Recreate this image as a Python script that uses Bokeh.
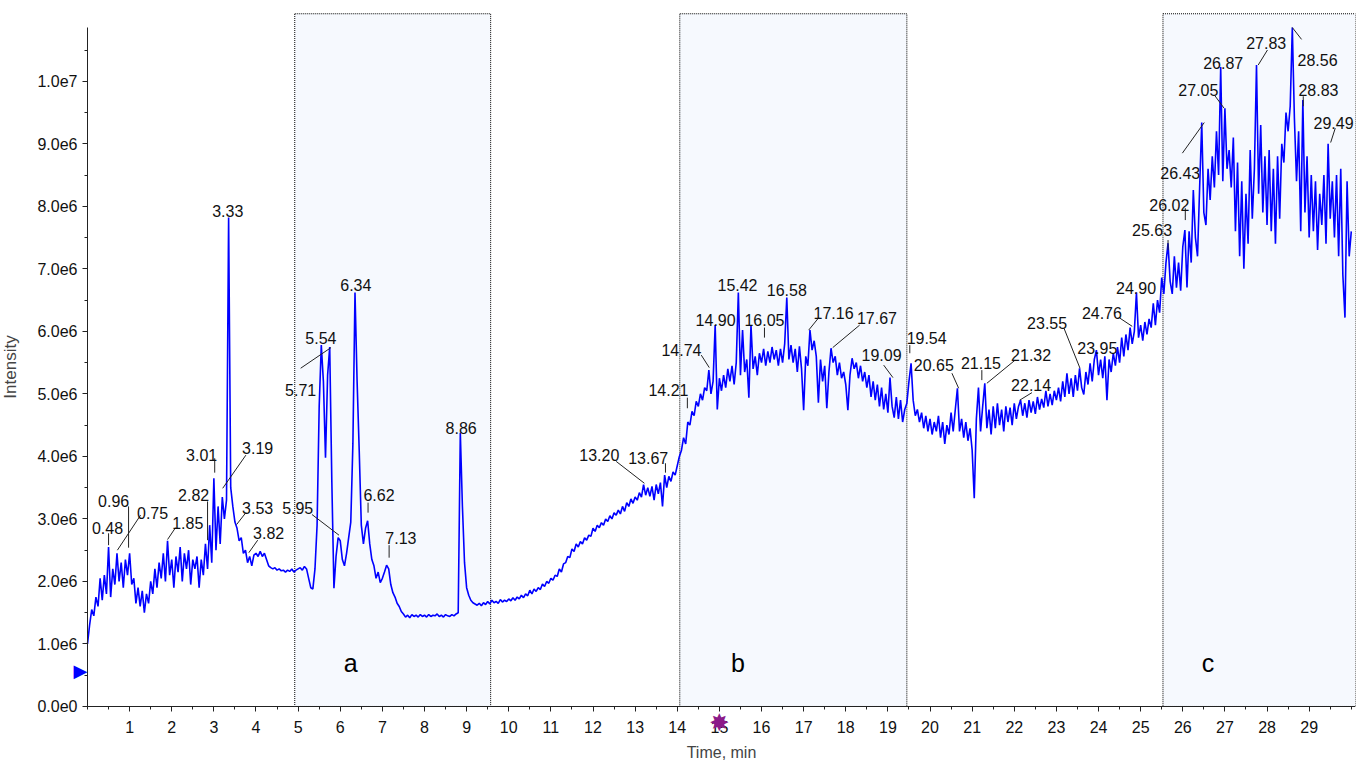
from bokeh.plotting import figure
from bokeh.models import FixedTicker, Label, ColumnDataSource, Range1d
from bokeh.embed import file_html
from bokeh.resources import INLINE
from bokeh.core.properties import value

# ---------------- data (intensity in units of 1e6 counts) ----------------
scan_start = 0.0      # min
scan_step = 0.05      # min between scans
intensity_e6 = [
    # 0.00 - 0.95
    1.00, 1.30, 1.55, 1.45, 1.75, 1.60, 2.05, 1.70, 2.10, 1.80, 2.55, 1.75, 2.20, 1.95, 2.45, 2.00, 2.30, 1.90, 2.35, 2.10,
    # 1.00 - 1.95
    2.45, 1.95, 2.05, 1.65, 1.90, 1.60, 1.85, 1.50, 1.80, 1.65, 2.00, 1.80, 2.20, 1.90, 2.30, 2.05, 2.45, 2.00, 2.65, 2.10,
    # 2.00 - 2.95
    2.35, 1.90, 2.40, 2.15, 2.55, 2.00, 2.45, 2.20, 2.50, 1.95, 2.35, 2.20, 2.40, 1.90, 2.35, 2.10, 2.60, 2.20, 2.90, 2.30,
    # 3.00 - 3.95
    3.65, 2.50, 3.20, 2.60, 3.35, 3.00, 3.30, 7.82, 3.50, 3.20, 2.95, 2.85, 2.65, 2.70, 2.45, 2.50, 2.30, 2.40, 2.25, 2.42,
    # 4.00 - 4.95
    2.45, 2.40, 2.48, 2.40, 2.45, 2.35, 2.25, 2.22, 2.20, 2.22, 2.18, 2.20, 2.17, 2.18, 2.15, 2.18, 2.16, 2.20, 2.15, 2.18,
    # 5.00 - 5.95
    2.20, 2.22, 2.18, 2.24, 2.20, 2.05, 1.90, 1.88, 2.20, 2.90, 4.80, 5.78, 5.20, 3.98, 5.30, 5.75, 3.60, 1.89, 2.40, 2.70,
    # 6.00 - 6.95
    2.65, 2.35, 2.25, 2.45, 2.70, 2.95, 4.20, 6.62, 5.20, 4.10, 2.90, 2.60, 2.85, 2.97, 2.60, 2.35, 2.25, 2.05, 2.15, 1.98,
    # 7.00 - 7.95
    2.05, 2.15, 2.26, 2.20, 1.95, 1.82, 1.75, 1.65, 1.60, 1.52, 1.48, 1.43, 1.46, 1.42, 1.47, 1.44, 1.46, 1.43, 1.47, 1.44,
    # 8.00 - 8.95
    1.46, 1.43, 1.47, 1.44, 1.46, 1.45, 1.48, 1.44, 1.46, 1.43, 1.47, 1.45, 1.44, 1.47, 1.45, 1.48, 1.50, 4.38, 3.20, 2.30,
    # 9.00 - 9.95
    1.90, 1.78, 1.70, 1.66, 1.64, 1.62, 1.65, 1.61, 1.66, 1.63, 1.68, 1.64, 1.70, 1.66, 1.68, 1.65, 1.71, 1.67, 1.70, 1.68,
    # 10.00 - 10.95
    1.72, 1.69, 1.74, 1.70, 1.75, 1.72, 1.78, 1.74, 1.80, 1.77, 1.86, 1.80, 1.88, 1.84, 1.90, 1.87, 1.96, 1.92, 2.00, 1.97,
    # 11.00 - 11.95
    2.05, 2.02, 2.10, 2.08, 2.20, 2.15, 2.28, 2.30, 2.40, 2.38, 2.52, 2.48, 2.60, 2.55, 2.64, 2.60, 2.70, 2.66, 2.74, 2.72,
    # 12.00 - 12.95
    2.85, 2.80, 2.90, 2.86, 2.94, 2.90, 3.00, 2.96, 3.05, 3.00, 3.10, 3.06, 3.14, 3.08, 3.20, 3.12, 3.26, 3.20, 3.32, 3.25,
    # 13.00 - 13.95
    3.35, 3.30, 3.42, 3.35, 3.55, 3.38, 3.50, 3.36, 3.52, 3.30, 3.55, 3.40, 3.58, 3.20, 3.70, 3.50, 3.68, 3.60, 3.75, 3.70,
    # 14.00 - 14.95
    3.85, 4.00, 4.10, 4.30, 4.20, 4.55, 4.50, 4.72, 4.65, 4.88, 4.80, 5.00, 4.90, 5.10, 5.05, 5.38, 5.00, 5.20, 6.10, 4.75,
    # 15.00 - 15.95
    5.25, 5.05, 5.30, 5.10, 5.40, 5.20, 5.45, 5.15, 5.50, 6.62, 5.30, 6.02, 5.35, 5.55, 4.94, 6.10, 5.40, 5.60, 5.30, 5.65,
    # 16.00 - 16.95
    5.50, 5.72, 5.45, 5.68, 5.50, 5.75, 5.55, 5.70, 5.45, 5.72, 5.50, 5.80, 6.54, 5.55, 5.78, 5.50, 5.72, 5.35, 5.76, 5.40,
    # 17.00 - 17.95
    4.74, 5.60, 5.45, 6.02, 5.70, 5.85, 5.60, 4.86, 5.55, 5.20, 5.45, 4.77, 5.35, 5.73, 5.50, 5.60, 5.30, 5.50, 5.25, 5.35,
    # 18.00 - 18.95
    5.15, 4.74, 5.30, 5.57, 5.40, 5.50, 5.25, 5.45, 5.20, 5.35, 5.10, 5.30, 4.95, 5.20, 4.90, 5.15, 4.80, 5.10, 4.75, 5.00,
    # 19.00 - 19.95
    4.70, 5.26, 4.80, 4.62, 4.95, 4.60, 4.90, 4.55, 4.75, 4.85, 5.20, 5.49, 4.90, 4.65, 4.75, 4.55, 4.70, 4.45, 4.65, 4.40,
    # 20.00 - 20.95
    4.60, 4.35, 4.55, 4.40, 4.65, 4.30, 4.55, 4.20, 4.50, 4.35, 4.70, 4.40, 4.75, 5.09, 4.40, 4.60, 4.30, 4.55, 4.25, 4.45,
    # 21.00 - 21.95
    4.10, 3.33, 4.60, 5.10, 4.40, 4.80, 5.17, 4.45, 4.75, 4.35, 4.80, 4.45, 4.85, 4.50, 4.75, 4.40, 4.80, 4.55, 4.78, 4.50,
    # 22.00 - 22.95
    4.85, 4.60, 4.80, 4.90, 4.65, 4.85, 4.62, 4.90, 4.70, 4.88, 4.68, 4.95, 4.75, 4.92, 4.78, 5.05, 4.80, 5.00, 4.82, 5.05,
    # 23.00 - 23.95
    4.90, 5.10, 4.88, 5.20, 4.95, 5.33, 5.00, 5.25, 4.95, 5.30, 5.05, 5.41, 5.10, 4.99, 5.35, 5.15, 5.49, 5.20, 5.55, 5.70,
    # 24.00 - 24.95
    5.30, 5.55, 5.25, 5.60, 4.90, 5.55, 5.35, 5.65, 5.45, 5.75, 5.50, 5.90, 5.60, 5.95, 5.70, 6.06, 5.80, 6.00, 6.62, 5.90,
    # 25.00 - 25.95
    6.10, 5.85, 6.15, 5.95, 6.20, 6.06, 6.45, 6.10, 6.50, 6.30, 6.86, 6.60, 7.09, 7.41, 6.80, 6.60, 7.20, 6.70, 7.10, 6.65,
    # 26.00 - 26.95
    7.35, 7.62, 6.70, 7.60, 7.10, 8.26, 7.50, 7.20, 8.30, 9.34, 7.90, 7.70, 8.60, 8.10, 8.80, 8.30, 9.20, 8.50, 10.23, 8.40,
    # 27.00 - 27.95
    9.57, 8.60, 8.90, 8.30, 9.10, 7.60, 8.70, 7.20, 8.40, 7.00, 8.20, 7.40, 8.90, 7.80, 8.60, 10.26, 8.20, 9.30, 7.90, 8.80,
    # 28.00 - 28.95
    7.70, 8.90, 7.60, 8.60, 7.40, 8.80, 7.80, 9.00, 8.70, 9.50, 9.20, 9.60, 10.86, 9.40, 8.40, 9.20, 7.60, 9.70, 7.90, 8.80,
    # 29.00 - 30.00
    7.50, 8.50, 7.60, 8.40, 7.30, 8.20, 7.70, 8.50, 7.40, 9.00, 7.80, 8.40, 7.50, 8.50, 7.20, 8.60, 6.90, 6.22, 8.40, 7.20,
    7.60,
]
scan_time = [round(scan_start + i * scan_step, 3) for i in range(len(intensity_e6))]

# shaded fractions a / b / c
region_names = ["a", "b", "c"]
region_start = [4.92, 14.06, 25.53]
region_end = [9.57, 19.45, 30.10]
region_label_t = [6.25, 15.44, 26.6]

# peak annotations (retention time labels)
peak_labels = ["0.48", "0.96", "0.75", "1.85", "2.82", "3.01", "3.19", "3.33", "3.53", "3.82",
               "5.71", "5.54", "5.95", "6.34", "6.62", "7.13", "8.86",
               "13.20", "13.67", "14.21", "14.74", "14.90", "15.42", "16.05", "16.58", "17.16", "17.67",
               "19.09", "19.54", "20.65", "21.15", "21.32", "22.14", "23.55", "23.95", "24.76", "24.90",
               "25.63", "26.02", "26.43", "27.05", "26.87", "27.83", "28.56", "28.83", "29.49"]
label_t = [0.475, 0.62, 1.545, 2.38, 2.52, 2.71, 4.04, 3.33, 4.04, 4.30,
           5.06, 5.54, 4.99, 6.37, 6.92, 7.44, 8.87,
           12.15, 13.31, 13.79, 14.10, 14.91, 15.43, 16.07, 16.60, 17.71, 18.74,
           18.85, 19.92, 20.09, 21.21, 22.40, 22.40, 22.78, 23.97, 24.08, 24.89,
           25.27, 25.68, 25.94, 26.37, 26.96, 27.98, 29.20, 29.22, 29.58]
label_i = [2.85, 3.28, 3.10, 2.94, 3.38, 4.03, 4.13, 7.92, 3.18, 2.77,
           5.06, 5.89, 3.17, 6.74, 3.38, 2.69, 4.46,
           4.02, 3.98, 5.06, 5.70, 6.18, 6.74, 6.18, 6.66, 6.30, 6.21,
           5.62, 5.89, 5.46, 5.49, 5.62, 5.14, 6.13, 5.74, 6.30, 6.70,
           7.62, 8.02, 8.53, 9.86, 10.30, 10.61, 10.34, 9.86, 9.34]

# leader lines from label to peak
lead_t0 = [0.50, 0.975, 1.26, 2.09, 2.85, 3.02, 3.76, 3.76, 4.04, 5.06, 5.33, 6.66, 7.16,
           12.55, 13.72, 14.24, 14.57, 16.07, 17.36, 18.33, 18.90, 19.52, 20.52, 21.23, 22.02, 22.42,
           23.18, 24.51, 25.65, 26.06, 25.99, 26.75, 28.01, 28.60, 28.86, 29.62]
lead_i0 = [2.77, 3.20, 3.06, 2.86, 3.28, 3.97, 4.02, 3.10, 2.66, 5.41, 3.07, 3.26, 2.58,
           3.92, 3.89, 4.94, 5.62, 6.06, 6.22, 6.10, 5.46, 5.78, 5.33, 5.38, 5.54, 5.02,
           6.05, 6.21, 7.46, 7.97, 8.85, 9.78, 10.50, 10.86, 9.76, 9.25]
lead_t1 = [0.50, 0.975, 0.71, 1.90, 2.85, 3.02, 3.21, 3.54, 3.83, 5.78, 5.97, 6.66, 7.16,
           13.22, 13.72, 14.24, 14.76, 16.07, 17.12, 17.69, 19.12, 19.52, 20.68, 21.23, 21.35, 22.13,
           23.56, 24.80, 25.65, 26.06, 26.51, 26.98, 27.79, 28.82, 28.86, 29.51]
lead_i1 = [2.58, 2.54, 2.50, 2.67, 2.66, 3.74, 3.49, 2.91, 2.46, 5.74, 2.74, 3.10, 2.38,
           3.57, 3.74, 4.77, 5.42, 5.90, 6.02, 5.74, 5.26, 5.65, 5.09, 5.22, 5.17, 4.90,
           5.41, 6.08, 7.30, 7.78, 9.34, 9.57, 10.26, 10.67, 9.60, 9.02]

y_tick_values = [0, 1, 2, 3, 4, 5, 6, 7, 8, 9, 10]
y_tick_labels = ["0.0e0", "1.0e6", "2.0e6", "3.0e6", "4.0e6", "5.0e6",
                 "6.0e6", "7.0e6", "8.0e6", "9.0e6", "1.0e7"]
x_tick_values = list(range(1, 30))

# ---------------- figure ----------------
FONT = "Liberation Sans"
# the frame is widened past the axes so that the axes (pinned at 0) and their labels stay visible
X_START, X_END = -2.065, 30.1
Y_START, Y_END = -0.976, 11.1

p = figure(width=1363, height=767, x_range=Range1d(X_START, X_END), y_range=Range1d(Y_START, Y_END),
           output_backend="svg", toolbar_location=None,
           min_border_left=0, min_border_right=8, min_border_top=12, min_border_bottom=0)
p.outline_line_color = None
p.xgrid.visible = False
p.ygrid.visible = False
p.background_fill_color = "white"
p.border_fill_color = "white"

# shaded regions
p.quad(left=region_start, right=region_end, bottom=0, top=Y_END - 0.02,
       fill_color="#f6f9fe", line_color="#000000", line_dash="1 1", line_width=1)

# chromatogram trace
src = ColumnDataSource(dict(t=scan_time, i=intensity_e6))
p.line("t", "i", source=src, line_color="#0000ff", line_width=1.6)

# leader lines and labels
p.segment(x0=lead_t0, y0=lead_i0, x1=lead_t1, y1=lead_i1, line_color="#222222", line_width=1)
p.text(x=label_t, y=label_i, text=peak_labels, text_align="center", text_baseline="alphabetic",
       text_font=value(FONT), text_font_size="16px", text_color="#111111")

# region letters
for name, pos in zip(region_names, region_label_t):
    p.add_layout(Label(x=pos, y=0.69, text=name, text_align="center", text_baseline="middle",
                       text_font=FONT, text_font_size="25px", text_color="black"))

# axes, pinned to t = 0 and intensity = 0
for ax in (p.xaxis[0], p.yaxis[0]):
    ax.fixed_location = 0
    ax.axis_line_color = "#222222"
    ax.major_tick_line_color = "#222222"
    ax.minor_tick_line_color = "#222222"
    ax.major_tick_in = 0
    ax.minor_tick_in = 0
    ax.major_tick_out = 5
    ax.minor_tick_out = 3
    ax.major_label_text_font = FONT
    ax.major_label_text_font_size = "16px"
    ax.major_label_text_color = "#111111"

p.xaxis.ticker = FixedTicker(ticks=x_tick_values, minor_ticks=[k * 0.5 for k in range(0, 61)])
p.xaxis.bounds = (0, X_END)
p.xaxis.axis_label = "Time, min"
p.xaxis.axis_label_text_font = FONT
p.xaxis.axis_label_text_font_size = "16px"
p.xaxis.axis_label_text_font_style = "normal"
p.xaxis.axis_label_standoff = 7
p.xaxis.major_label_standoff = 10

p.yaxis.ticker = FixedTicker(ticks=y_tick_values, minor_ticks=[k * 0.5 for k in range(0, 22)])
p.yaxis.major_label_overrides = {v: s for v, s in zip(y_tick_values, y_tick_labels)}
p.yaxis.bounds = (0, 10.86)
p.yaxis.axis_label = "Intensity"
p.yaxis.axis_label_text_font = FONT
p.yaxis.axis_label_text_font_size = "17px"
p.yaxis.axis_label_text_font_style = "normal"
p.yaxis.axis_label_standoff = 14
p.yaxis.major_label_standoff = 5

# markers on the axes
p.add_layout(Label(x=0, y=0.58, text="\u25b6", x_offset=-7, text_align="center", text_baseline="middle",
                   text_font="DejaVu Sans", text_color="#0000ff", text_font_size="18px"))
p.add_layout(Label(x=15.0, y=0, text="\u2738", y_offset=-17, text_align="center", text_baseline="middle",
                   text_font="DejaVu Sans", text_color="#8b1a89", text_font_size="24px"))

open("out.html", "w").write(file_html(p, INLINE))
